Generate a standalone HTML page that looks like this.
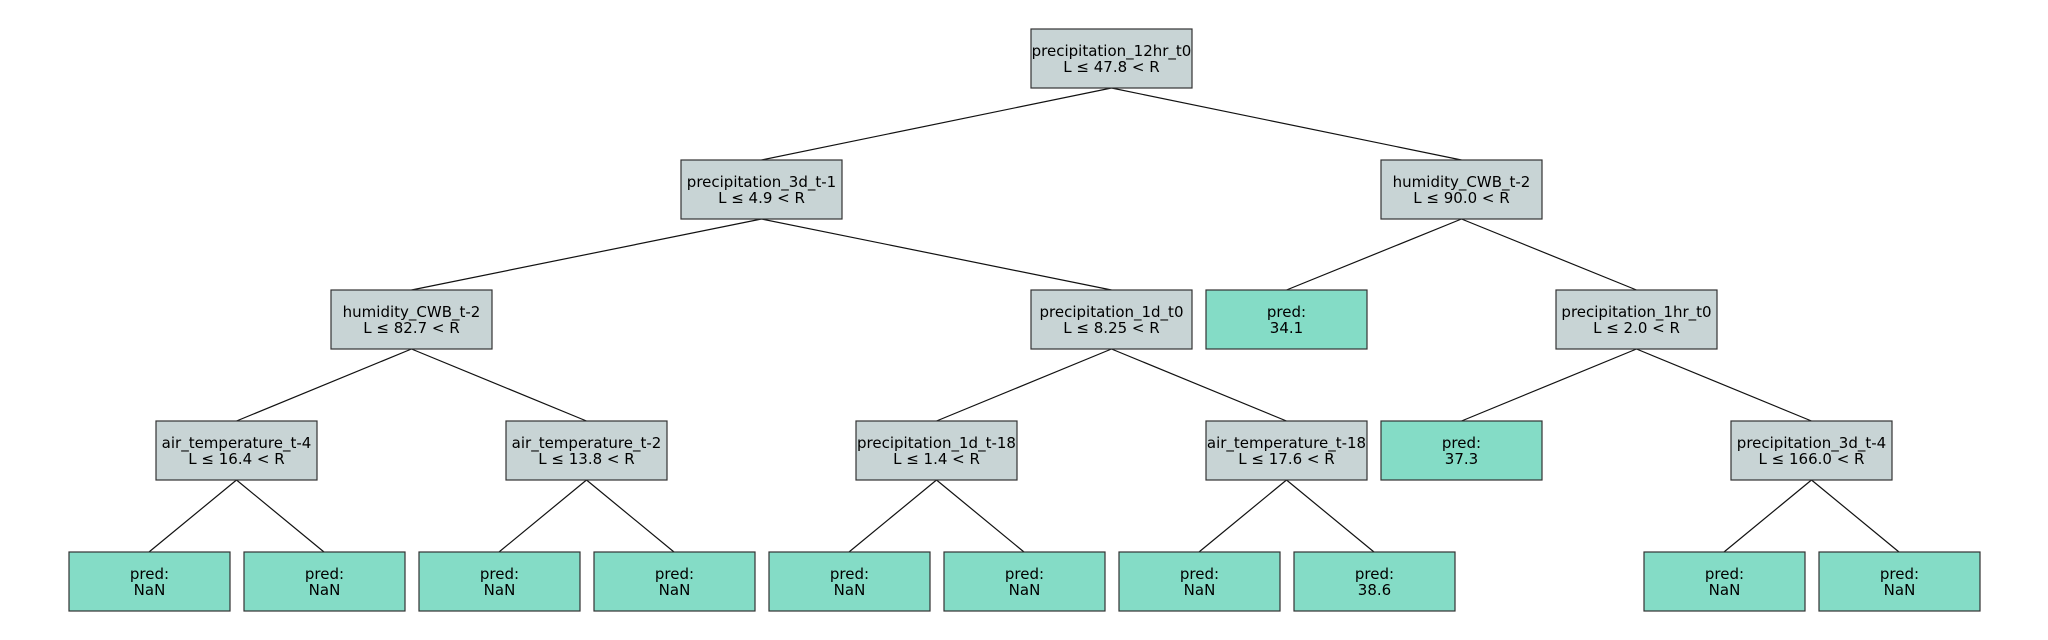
<!DOCTYPE html>
<html><head><meta charset="utf-8"><style>
html,body{margin:0;padding:0;background:#fff;}
svg{display:block;}
text{font-family:"DejaVu Sans","Liberation Sans",sans-serif;font-size:15px;fill:#000;text-anchor:middle;}
</style></head><body>
<svg width="2048" height="640" viewBox="0 0 2048 640" xmlns="http://www.w3.org/2000/svg">
<g stroke="#111" stroke-width="1.2" fill="none">
<line x1="1111.5" y1="88" x2="761.5" y2="160"/>
<line x1="1111.5" y1="88" x2="1461.5" y2="160"/>
<line x1="761.5" y1="219" x2="411.5" y2="290"/>
<line x1="761.5" y1="219" x2="1111.5" y2="290"/>
<line x1="1461.5" y1="219" x2="1286.5" y2="290"/>
<line x1="1461.5" y1="219" x2="1636.5" y2="290"/>
<line x1="411.5" y1="349" x2="236.5" y2="421"/>
<line x1="411.5" y1="349" x2="586.5" y2="421"/>
<line x1="1111.5" y1="349" x2="936.5" y2="421"/>
<line x1="1111.5" y1="349" x2="1286.5" y2="421"/>
<line x1="1636.5" y1="349" x2="1461.5" y2="421"/>
<line x1="1636.5" y1="349" x2="1811.5" y2="421"/>
<line x1="236.5" y1="480" x2="149" y2="552"/>
<line x1="236.5" y1="480" x2="324" y2="552"/>
<line x1="586.5" y1="480" x2="499" y2="552"/>
<line x1="586.5" y1="480" x2="674" y2="552"/>
<line x1="936.5" y1="480" x2="849" y2="552"/>
<line x1="936.5" y1="480" x2="1024" y2="552"/>
<line x1="1286.5" y1="480" x2="1199" y2="552"/>
<line x1="1286.5" y1="480" x2="1374" y2="552"/>
<line x1="1811.5" y1="480" x2="1724" y2="552"/>
<line x1="1811.5" y1="480" x2="1899" y2="552"/>
</g>
<g stroke="#333" stroke-width="1.2">
<rect x="1031" y="29" width="161" height="59" fill="#c8d4d5"/>
<rect x="681" y="160" width="161" height="59" fill="#c8d4d5"/>
<rect x="1381" y="160" width="161" height="59" fill="#c8d4d5"/>
<rect x="331" y="290" width="161" height="59" fill="#c8d4d5"/>
<rect x="1031" y="290" width="161" height="59" fill="#c8d4d5"/>
<rect x="1206" y="290" width="161" height="59" fill="#84dcc6"/>
<rect x="1556" y="290" width="161" height="59" fill="#c8d4d5"/>
<rect x="156" y="421" width="161" height="59" fill="#c8d4d5"/>
<rect x="506" y="421" width="161" height="59" fill="#c8d4d5"/>
<rect x="856" y="421" width="161" height="59" fill="#c8d4d5"/>
<rect x="1206" y="421" width="161" height="59" fill="#c8d4d5"/>
<rect x="1381" y="421" width="161" height="59" fill="#84dcc6"/>
<rect x="1731" y="421" width="161" height="59" fill="#c8d4d5"/>
<rect x="69" y="552" width="161" height="59" fill="#84dcc6"/>
<rect x="244" y="552" width="161" height="59" fill="#84dcc6"/>
<rect x="419" y="552" width="161" height="59" fill="#84dcc6"/>
<rect x="594" y="552" width="161" height="59" fill="#84dcc6"/>
<rect x="769" y="552" width="161" height="59" fill="#84dcc6"/>
<rect x="944" y="552" width="161" height="59" fill="#84dcc6"/>
<rect x="1119" y="552" width="161" height="59" fill="#84dcc6"/>
<rect x="1294" y="552" width="161" height="59" fill="#84dcc6"/>
<rect x="1644" y="552" width="161" height="59" fill="#84dcc6"/>
<rect x="1819" y="552" width="161" height="59" fill="#84dcc6"/>
</g>
<g>
<text x="1111.5" y="56">precipitation_12hr_t0</text><text x="1111.5" y="72">L ≤ 47.8 &lt; R</text>
<text x="761.5" y="187">precipitation_3d_t-1</text><text x="761.5" y="203">L ≤ 4.9 &lt; R</text>
<text x="1461.5" y="187">humidity_CWB_t-2</text><text x="1461.5" y="203">L ≤ 90.0 &lt; R</text>
<text x="411.5" y="317">humidity_CWB_t-2</text><text x="411.5" y="333">L ≤ 82.7 &lt; R</text>
<text x="1111.5" y="317">precipitation_1d_t0</text><text x="1111.5" y="333">L ≤ 8.25 &lt; R</text>
<text x="1286.5" y="317">pred:</text><text x="1286.5" y="333">34.1</text>
<text x="1636.5" y="317">precipitation_1hr_t0</text><text x="1636.5" y="333">L ≤ 2.0 &lt; R</text>
<text x="236.5" y="448">air_temperature_t-4</text><text x="236.5" y="464">L ≤ 16.4 &lt; R</text>
<text x="586.5" y="448">air_temperature_t-2</text><text x="586.5" y="464">L ≤ 13.8 &lt; R</text>
<text x="936.5" y="448">precipitation_1d_t-18</text><text x="936.5" y="464">L ≤ 1.4 &lt; R</text>
<text x="1286.5" y="448">air_temperature_t-18</text><text x="1286.5" y="464">L ≤ 17.6 &lt; R</text>
<text x="1461.5" y="448">pred:</text><text x="1461.5" y="464">37.3</text>
<text x="1811.5" y="448">precipitation_3d_t-4</text><text x="1811.5" y="464">L ≤ 166.0 &lt; R</text>
<text x="149.5" y="579">pred:</text><text x="149.5" y="595">NaN</text>
<text x="324.5" y="579">pred:</text><text x="324.5" y="595">NaN</text>
<text x="499.5" y="579">pred:</text><text x="499.5" y="595">NaN</text>
<text x="674.5" y="579">pred:</text><text x="674.5" y="595">NaN</text>
<text x="849.5" y="579">pred:</text><text x="849.5" y="595">NaN</text>
<text x="1024.5" y="579">pred:</text><text x="1024.5" y="595">NaN</text>
<text x="1199.5" y="579">pred:</text><text x="1199.5" y="595">NaN</text>
<text x="1374.5" y="579">pred:</text><text x="1374.5" y="595">38.6</text>
<text x="1724.5" y="579">pred:</text><text x="1724.5" y="595">NaN</text>
<text x="1899.5" y="579">pred:</text><text x="1899.5" y="595">NaN</text>
</g>
</svg>
</body></html>
